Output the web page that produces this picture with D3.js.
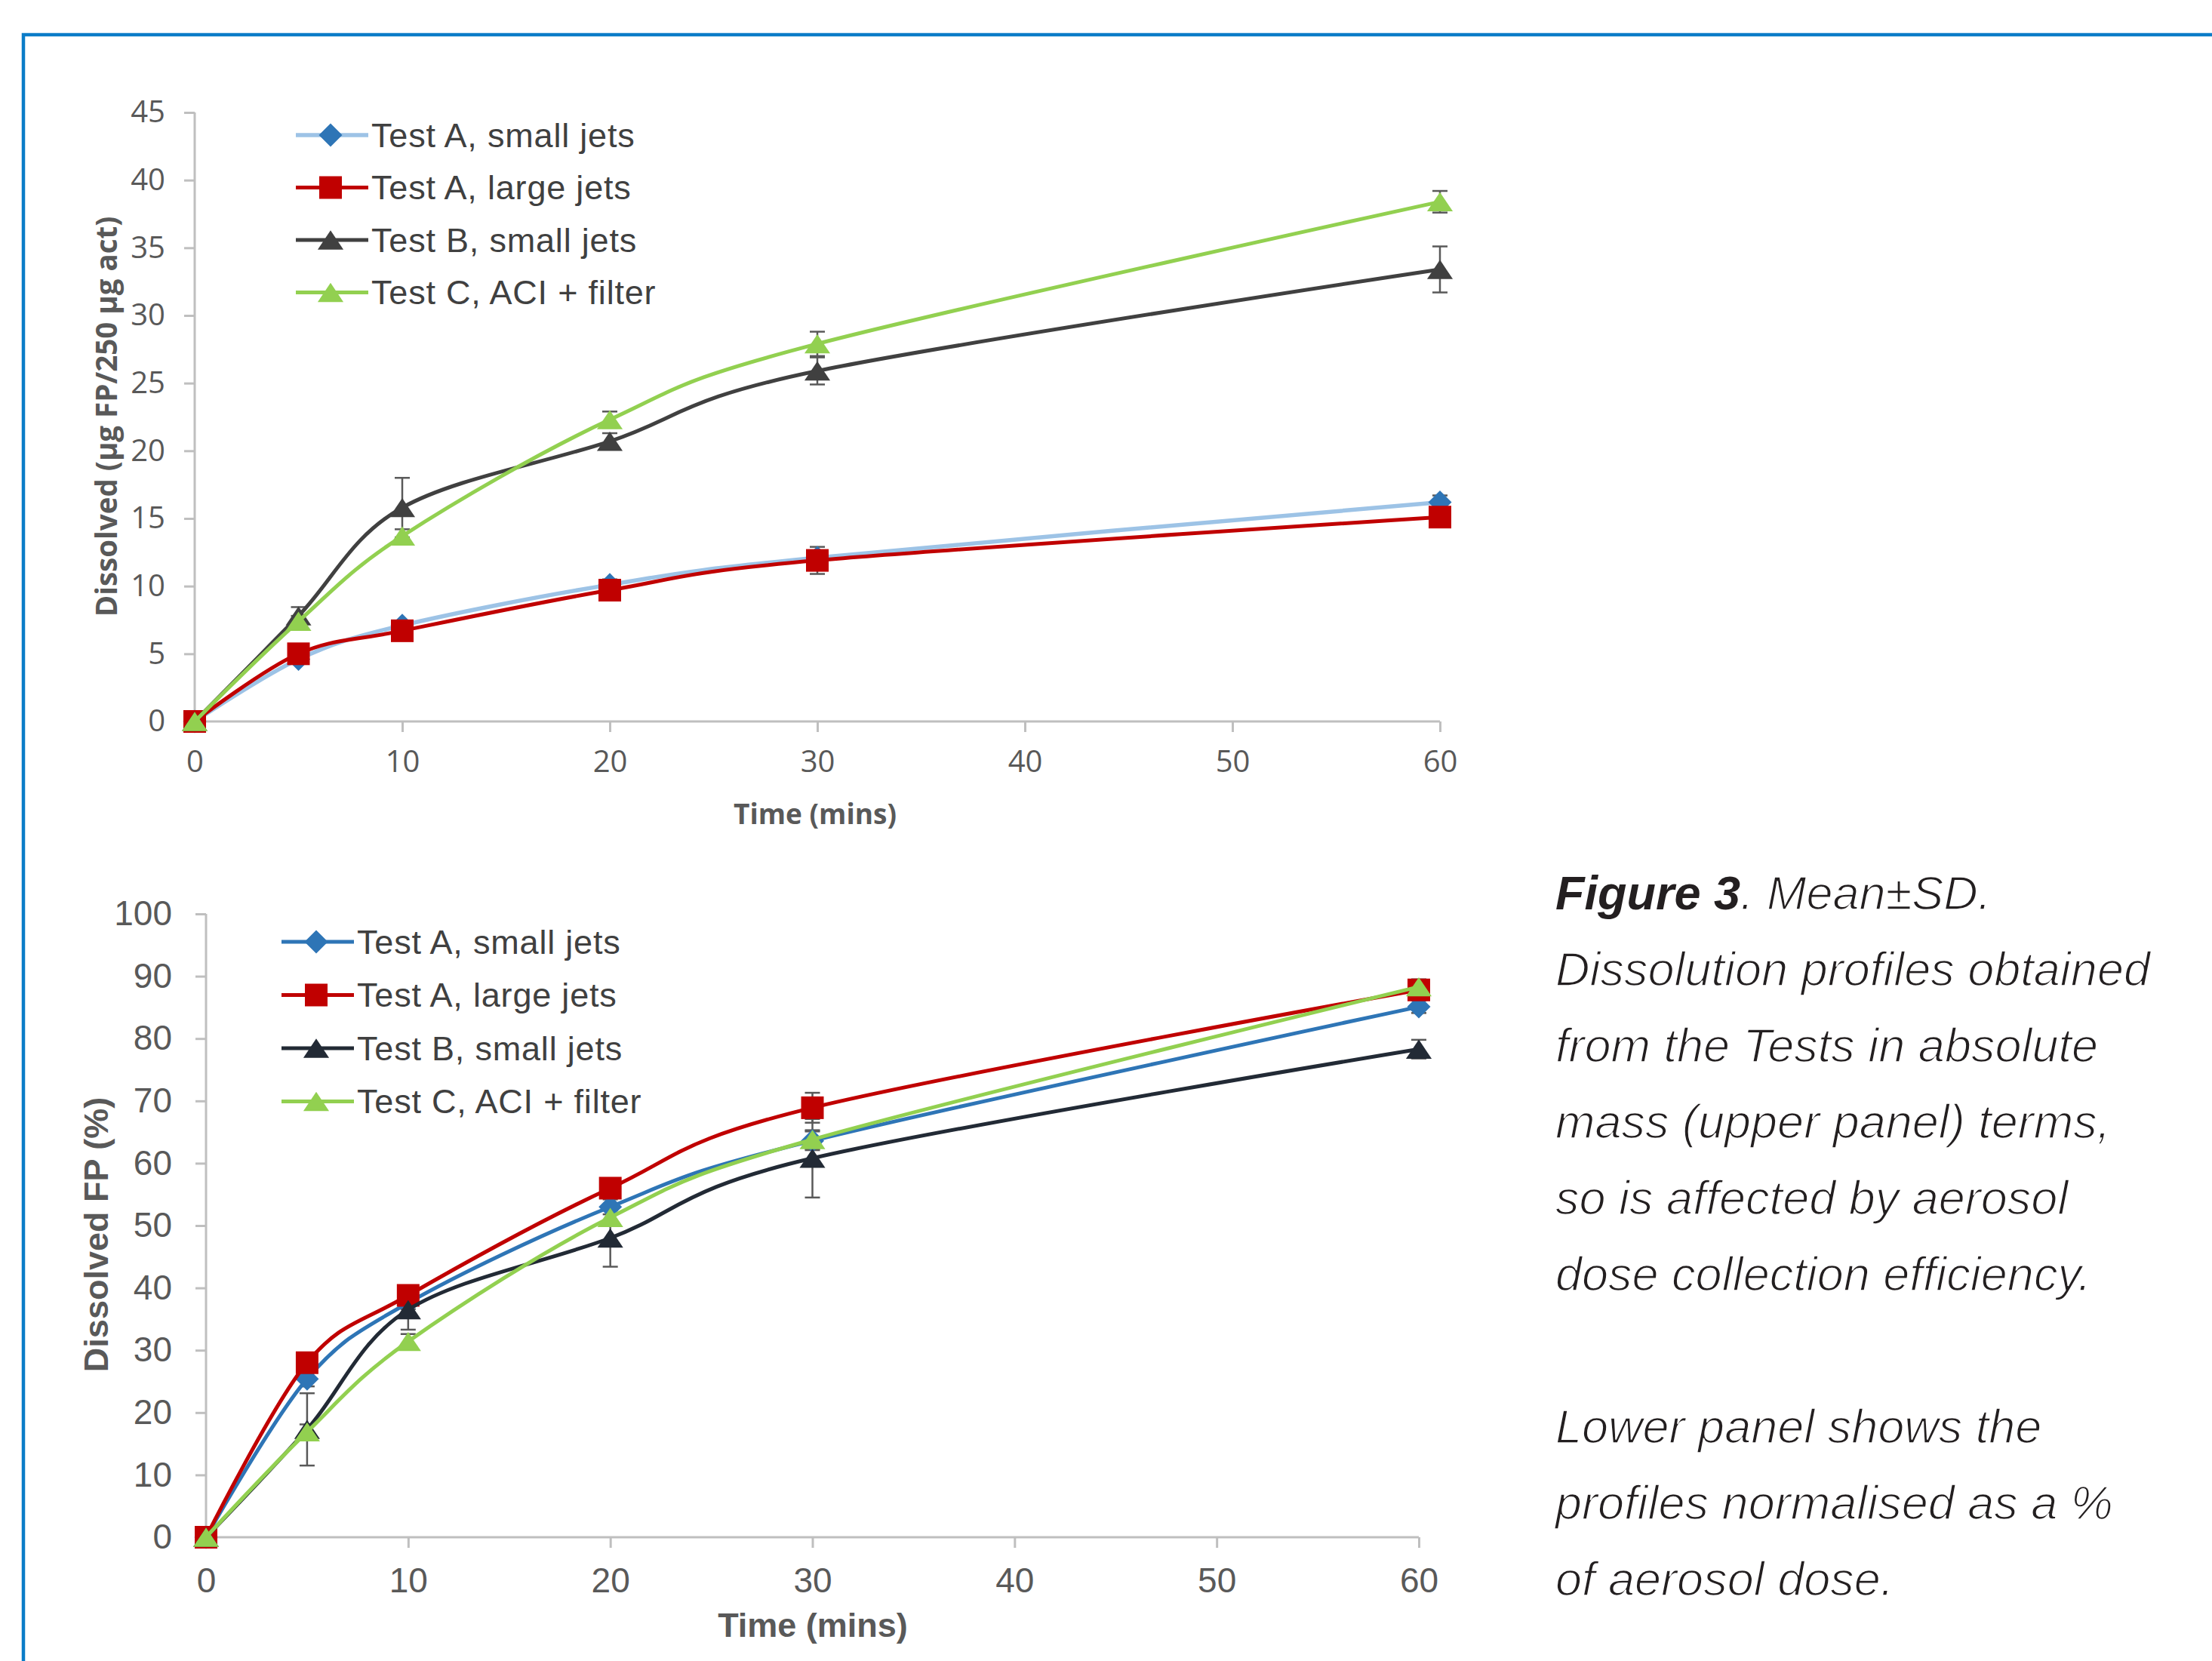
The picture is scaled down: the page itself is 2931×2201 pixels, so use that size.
<!DOCTYPE html>
<html>
<head>
<meta charset="utf-8">
<script src="https://cdn.jsdelivr.net/npm/d3@7"></script>
<style>
  html, body { margin: 0; padding: 0; background: #fff; }
  svg { display: block; }
</style>
</head>
<body>
<svg id="chart" width="2931" height="2201"></svg>
<script>
// time points (mins)
const times = [0, 5, 10, 20, 30, 60];
const seriesNames = ['Test A, small jets', 'Test A, large jets', 'Test B, small jets', 'Test C, ACI + filter'];

// upper panel: dissolved mass (ug FP / 250 ug act)
const massSmallA = [0, 4.6, 7.1, 10.1, 12.1, 16.2];
const massLargeA = [0, 5.0, 6.7, 9.7, 11.9, 15.1];
const massSmallB = [0, 7.8, 15.8, 20.7, 25.9, 33.4];
const massC      = [0, 7.4, 13.7, 22.3, 27.9, 38.4];
const massSdSmallA = [0, 0.3, 0.3, 0.4, 0.5, 0.5];
const massSdLargeA = [0, 0.4, 0.4, 0.5, 1.0, 0.7];
const massSdSmallB = [0, 0.65, 2.2, 0.6, 1.0, 1.7];
const massSdC      = [0, 0.4, 0.5, 0.6, 0.9, 0.8];
const massTicks = [0, 5, 10, 15, 20, 25, 30, 35, 40, 45];

// lower panel: dissolved FP (% of aerosol dose)
const pctSmallA = [0, 25.4, 37.6, 53.0, 63.6, 85.1];
const pctLargeA = [0, 28.0, 38.8, 56.0, 68.9, 87.8];
const pctSmallB = [0, 17.3, 36.5, 48.0, 60.8, 78.3];
const pctC      = [0, 16.9, 31.4, 51.3, 63.8, 88.3];
const pctSdSmallA = [0, 1.2, 1.0, 1.2, 1.5, 1.0];
const pctSdLargeA = [0, 1.2, 1.2, 1.5, 2.4, 1.0];
const pctSdSmallB = [0, 5.8, 3.2, 4.6, 6.3, 1.5];
const pctSdC      = [0, 1.2, 1.2, 1.2, 1.5, 1.2];
const pctTicks = [0, 10, 20, 30, 40, 50, 60, 70, 80, 90, 100];

const timeTicks = [0, 10, 20, 30, 40, 50, 60];

const captionLines = [
  'Dissolution profiles obtained',
  'from the Tests in absolute',
  'mass (upper panel) terms,',
  'so is affected by aerosol',
  'dose collection efficiency.',
  '',
  'Lower panel shows the',
  'profiles normalised as a %',
  'of aerosol dose.'
];

const svg = d3.select('#chart');

// blue frame
svg.append('rect')
  .attr('x', 31).attr('y', 46)
  .attr('width', 3000).attr('height', 3000)
  .attr('fill', 'none')
  .attr('stroke', '#0B7CC8')
  .attr('stroke-width', 4.5);

// marker shapes, centred on their bounding box like Excel
function markerPath(shape, s) {
  const h = s / 2;
  if (shape === 'diamond') return `M0,${-h}L${h},0L0,${h}L${-h},0Z`;
  if (shape === 'square') return `M${-h},${-h}H${h}V${h}H${-h}Z`;
  const v = h * 0.82;
  return `M0,${-v}L${h * 1.1},${v}L${-h * 1.1},${v}Z`;
}

function drawPanel(cfg) {
  const g = svg.append('g');
  const x = d3.scaleLinear().domain([0, 60]).range(cfg.xRange);
  const y = d3.scaleLinear().domain(cfg.yDomain).range(cfg.yRange);

  // axes
  const yAxis = g.append('g')
    .attr('transform', `translate(${cfg.xRange[0]},0)`)
    .call(d3.axisLeft(y).tickValues(cfg.yTicks).tickSize(14).tickPadding(cfg.yPad));
  const xAxis = g.append('g')
    .attr('transform', `translate(0,${cfg.yRange[0]})`)
    .call(d3.axisBottom(x).tickValues(timeTicks).tickSize(14).tickPadding(cfg.xPad));
  [yAxis, xAxis].forEach(a => {
    a.select('.domain').attr('stroke', '#BFBFBF').attr('stroke-width', 3);
    a.selectAll('.tick line').attr('stroke', '#BFBFBF').attr('stroke-width', 3);
    a.selectAll('.tick text')
      .attr('fill', '#595959')
      .style('font-family', cfg.tickFont)
      .style('font-size', cfg.tickSize + 'px');
  });
  // remove outer tick stubs on the domain path
  yAxis.select('.domain').attr('d', `M0,${cfg.yRange[1]}V${cfg.yRange[0]}`);
  xAxis.select('.domain').attr('d', `M${cfg.xRange[0]},0H${cfg.xRange[1]}`);

  // axis titles
  g.append('text')
    .attr('transform', `translate(${cfg.yTitlePos[0]},${cfg.yTitlePos[1]}) rotate(-90)`)
    .attr('text-anchor', 'middle').attr('dominant-baseline', 'central')
    .attr('fill', '#595959').attr('font-weight', 'bold')
    .style('font-family', cfg.titleFont).style('font-size', cfg.yTitleSize + 'px')
    .text(cfg.yTitle);
  g.append('text')
    .attr('x', cfg.xTitlePos[0]).attr('y', cfg.xTitlePos[1])
    .attr('text-anchor', 'middle').attr('dominant-baseline', 'central')
    .attr('fill', '#595959').attr('font-weight', 'bold')
    .style('font-family', cfg.titleFont).style('font-size', cfg.xTitleSize + 'px')
    .text('Time (mins)');

  const line = d3.line()
    .x((d, i) => x(times[i]))
    .y(d => y(d))
    .curve(d3.curveCardinal.tension(0));

  // error bars
  cfg.series.forEach(s => {
    const eb = g.append('g').attr('stroke', '#595959').attr('stroke-width', 2.5).attr('fill', 'none');
    s.values.forEach((v, i) => {
      const sd = s.sd[i];
      if (!sd) return;
      const cx = x(times[i]);
      eb.append('line').attr('x1', cx).attr('x2', cx).attr('y1', y(v - sd)).attr('y2', y(v + sd));
      [v - sd, v + sd].forEach(e => {
        eb.append('line').attr('x1', cx - 10).attr('x2', cx + 10).attr('y1', y(e)).attr('y2', y(e));
      });
    });
  });

  // lines and markers
  cfg.series.forEach(s => {
    g.append('path')
      .attr('d', line(s.values))
      .attr('fill', 'none')
      .attr('stroke', s.line)
      .attr('stroke-width', s.width)
      .attr('stroke-linejoin', 'round');
    g.selectAll(null)
      .data(s.values)
      .enter()
      .append('path')
      .attr('transform', (d, i) => `translate(${x(times[i])},${y(d)})`)
      .attr('d', markerPath(s.shape, s.size))
      .attr('fill', s.marker);
  });

  // legend
  const lg = g.append('g');
  cfg.series.forEach((s, i) => {
    const ly = cfg.legend.y0 + i * cfg.legend.dy;
    lg.append('line')
      .attr('x1', cfg.legend.x0).attr('x2', cfg.legend.x0 + 96)
      .attr('y1', ly).attr('y2', ly)
      .attr('stroke', s.line).attr('stroke-width', s.width);
    lg.append('path')
      .attr('transform', `translate(${cfg.legend.x0 + 46},${ly})`)
      .attr('d', markerPath(s.shape, s.size))
      .attr('fill', s.marker);
    lg.append('text')
      .attr('x', cfg.legend.x0 + 100).attr('y', ly)
      .attr('dominant-baseline', 'central')
      .attr('fill', '#404040')
      .style('font-family', '"Liberation Sans", Arial, sans-serif')
      .style('font-size', cfg.legend.size + 'px')
      .style('letter-spacing', '0.8px')
      .text(s.name);
  });
}

drawPanel({
  xRange: [258, 1908], yDomain: [0, 45], yRange: [956, 149], yTicks: massTicks,
  tickFont: '"Open Sans", sans-serif', tickSize: 40, yPad: 25, xPad: 25,
  titleFont: '"Open Sans", sans-serif',
  yTitle: 'Dissolved (µg FP/250 µg act)', yTitleSize: 38.5, yTitlePos: [140, 552],
  xTitleSize: 37, xTitlePos: [1080, 1077],
  legend: { x0: 392, y0: 179, dy: 69.5, size: 45 },
  series: [
    { name: seriesNames[0], values: massSmallA, sd: massSdSmallA, line: '#9DC3E6', marker: '#2E75B6', shape: 'diamond', size: 31, width: 5.5 },
    { name: seriesNames[1], values: massLargeA, sd: massSdLargeA, line: '#C00000', marker: '#C00000', shape: 'square', size: 30, width: 5 },
    { name: seriesNames[2], values: massSmallB, sd: massSdSmallB, line: '#404040', marker: '#404040', shape: 'triangle', size: 31, width: 5 },
    { name: seriesNames[3], values: massC, sd: massSdC, line: '#92D050', marker: '#92D050', shape: 'triangle', size: 31, width: 5 }
  ]
});

drawPanel({
  xRange: [273, 1880], yDomain: [0, 100], yRange: [2037, 1211], yTicks: pctTicks,
  tickFont: '"Liberation Sans", Arial, sans-serif', tickSize: 46, yPad: 31, xPad: 26,
  titleFont: '"Liberation Sans", Arial, sans-serif',
  yTitle: 'Dissolved FP (%)', yTitleSize: 45, yTitlePos: [127, 1636],
  xTitleSize: 45, xTitlePos: [1077, 2153],
  legend: { x0: 373, y0: 1248, dy: 70.5, size: 45 },
  series: [
    { name: seriesNames[0], values: pctSmallA, sd: pctSdSmallA, line: '#2E75B6', marker: '#2E75B6', shape: 'diamond', size: 31, width: 5 },
    { name: seriesNames[1], values: pctLargeA, sd: pctSdLargeA, line: '#C00000', marker: '#C00000', shape: 'square', size: 30, width: 5 },
    { name: seriesNames[2], values: pctSmallB, sd: pctSdSmallB, line: '#222A35', marker: '#222A35', shape: 'triangle', size: 31, width: 5 },
    { name: seriesNames[3], values: pctC, sd: pctSdC, line: '#92D050', marker: '#92D050', shape: 'triangle', size: 31, width: 5 }
  ]
});

// caption (thin italic, like Helvetica Light)
const cap = svg.append('g')
  .style('font-family', '"Liberation Sans", Arial, sans-serif')
  .style('font-size', '63px')
  .style('font-style', 'italic')
  .attr('fill', '#231F20');
const first = cap.append('text').attr('x', 2061).attr('y', 1205);
first.append('tspan').attr('font-weight', 'bold').text('Figure 3');
first.append('tspan').attr('stroke', '#fff').attr('stroke-width', 1.6).text('. Mean±SD.');
captionLines.forEach((t, i) => {
  if (!t) return;
  cap.append('text')
    .attr('x', 2061).attr('y', 1306 + i * 101)
    .attr('stroke', '#fff').attr('stroke-width', 1.6)
    .text(t);
});
</script>
</body>
</html>
